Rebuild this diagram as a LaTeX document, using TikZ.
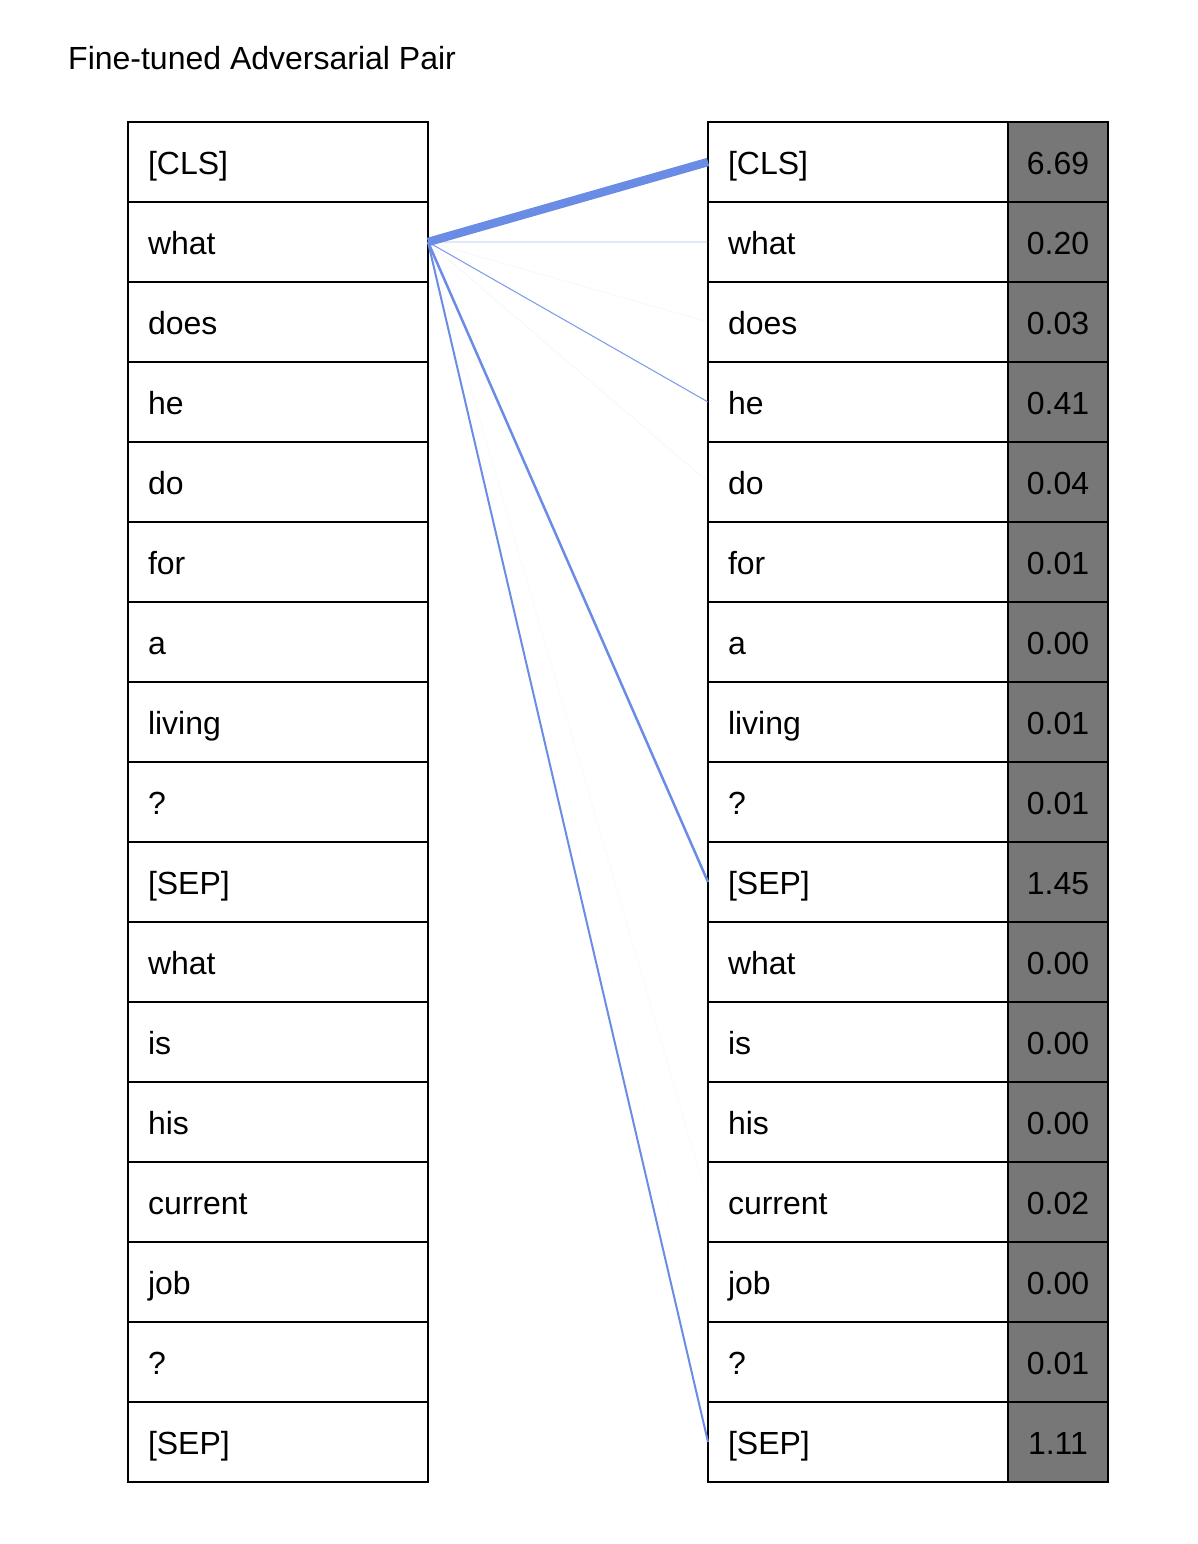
\documentclass[tikz,border=0pt]{standalone}
\usepackage{fontspec}
\setmainfont{Liberation Sans}
\definecolor{attnblue}{RGB}{106,140,229}
\definecolor{cellgray}{RGB}{119,119,119}
\tikzset{
  tok/.style={draw, line width=2pt, rectangle, anchor=north west, outer sep=0pt,
    minimum height=80pt, text width=260pt, inner xsep=20pt, inner ysep=0pt,
    align=left, text height=25.5pt, text depth=0pt},
  val/.style={draw, line width=2pt, rectangle, anchor=north west, outer sep=0pt,
    fill=cellgray, minimum height=80pt, minimum width=100pt, inner sep=0pt,
    text height=25.5pt, text depth=0pt},
  attn/.style={draw=attnblue, line cap=butt}
}

\begin{document}
\begin{tikzpicture}[x=1pt, y=-1pt, font=\fontsize{32}{38}\selectfont]
			\useasboundingbox (0,0) rectangle (1198,1544);
			\node[anchor=base west, inner sep=0pt] (title) at (68,70) {Fine-tuned Adversarial Pair};
			% left column
			\node[tok] (l0) at (128,122) {[CLS]};
			\node[tok] (l1) at (128,202) {what};
			\node[tok] (l2) at (128,282) {does};
			\node[tok] (l3) at (128,362) {he};
			\node[tok] (l4) at (128,442) {do};
			\node[tok] (l5) at (128,522) {for};
			\node[tok] (l6) at (128,602) {a};
			\node[tok] (l7) at (128,682) {living};
			\node[tok] (l8) at (128,762) {?};
			\node[tok] (l9) at (128,842) {[SEP]};
			\node[tok] (l10) at (128,922) {what};
			\node[tok] (l11) at (128,1002) {is};
			\node[tok] (l12) at (128,1082) {his};
			\node[tok] (l13) at (128,1162) {current};
			\node[tok] (l14) at (128,1242) {job};
			\node[tok] (l15) at (128,1322) {?};
			\node[tok] (l16) at (128,1402) {[SEP]};
			% right column with scores
			\node[tok] (r0) at (708,122) {[CLS]};     \node[val] (v0) at (1008,122) {6.69};
			\node[tok] (r1) at (708,202) {what};      \node[val] (v1) at (1008,202) {0.20};
			\node[tok] (r2) at (708,282) {does};      \node[val] (v2) at (1008,282) {0.03};
			\node[tok] (r3) at (708,362) {he};        \node[val] (v3) at (1008,362) {0.41};
			\node[tok] (r4) at (708,442) {do};        \node[val] (v4) at (1008,442) {0.04};
			\node[tok] (r5) at (708,522) {for};       \node[val] (v5) at (1008,522) {0.01};
			\node[tok] (r6) at (708,602) {a};         \node[val] (v6) at (1008,602) {0.00};
			\node[tok] (r7) at (708,682) {living};    \node[val] (v7) at (1008,682) {0.01};
			\node[tok] (r8) at (708,762) {?};         \node[val] (v8) at (1008,762) {0.01};
			\node[tok] (r9) at (708,842) {[SEP]};     \node[val] (v9) at (1008,842) {1.45};
			\node[tok] (r10) at (708,922) {what};     \node[val] (v10) at (1008,922) {0.00};
			\node[tok] (r11) at (708,1002) {is};      \node[val] (v11) at (1008,1002) {0.00};
			\node[tok] (r12) at (708,1082) {his};     \node[val] (v12) at (1008,1082) {0.00};
			\node[tok] (r13) at (708,1162) {current}; \node[val] (v13) at (1008,1162) {0.02};
			\node[tok] (r14) at (708,1242) {job};     \node[val] (v14) at (1008,1242) {0.00};
			\node[tok] (r15) at (708,1322) {?};       \node[val] (v15) at (1008,1322) {0.01};
			\node[tok] (r16) at (708,1402) {[SEP]};   \node[val] (v16) at (1008,1402) {1.11};
			% attention from "what"
			\draw[attn, line width=8.5pt] (l1.east) -- (r0.west);
			\draw[attn, line width=1.5pt, opacity=0.2] (l1.east) -- (r1.west);
			\draw[attn, line width=1pt, opacity=0.06] (l1.east) -- (r2.west);
			\draw[attn, line width=1pt, opacity=0.9] (l1.east) -- (r3.west);
			\draw[attn, line width=1pt, opacity=0.07] (l1.east) -- (r4.west);
			\draw[attn, line width=1pt, opacity=0.02] (l1.east) -- (r5.west);
			\draw[attn, line width=1pt, opacity=0.02] (l1.east) -- (r7.west);
			\draw[attn, line width=1pt, opacity=0.02] (l1.east) -- (r8.west);
			\draw[attn, line width=2.5pt] (l1.east) -- (r9.west);
			\draw[attn, line width=1pt, opacity=0.04] (l1.east) -- (r13.west);
			\draw[attn, line width=1pt, opacity=0.02] (l1.east) -- (r15.west);
			\draw[attn, line width=2pt] (l1.east) -- (r16.west);
\end{tikzpicture}
\end{document}
